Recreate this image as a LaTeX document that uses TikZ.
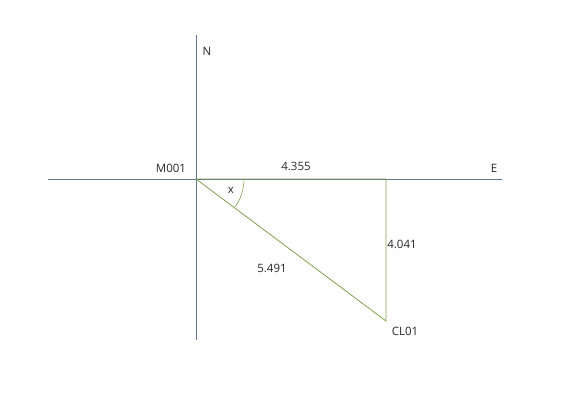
\documentclass[tikz,border=0pt]{standalone}
\usepackage{fontspec}
\setmainfont{Open Sans}
\definecolor{axiscol}{RGB}{100,120,150}
\definecolor{trigreen}{RGB}{128,160,80}
\definecolor{txt}{RGB}{40,40,40}
\begin{document}
\begin{tikzpicture}[x=1pt,y=-1pt,
  axis/.style={draw=axiscol,line width=0.8pt},
  tri/.style={draw=trigreen,line width=0.8pt},
  lbl/.style={text=txt,font=\fontsize{11.5}{13}\selectfont,inner sep=0pt}]
\useasboundingbox (0,0) rectangle (572,402);
\coordinate (ntop) at (196,35);
\coordinate (nbot) at (196,340);
\coordinate (wend) at (48,179);
\coordinate (eend) at (502,179);
\coordinate (M) at (196,179);
\coordinate (K) at (386,179);
\coordinate (C) at (386,321);
\draw[axis] (ntop) -- (nbot);
\draw[axis] (wend) -- (eend);
\draw[tri] (M) -- (K) -- (C) -- cycle;
\draw[tri,line width=0.6pt] ([xshift=48pt]M) arc[start angle=0,end angle=-36.8,radius=48pt];
\node[lbl] (n) at (207,51) {N};
\node[lbl] (m) at (171,168) {M001};
\node[lbl] (a) at (296,166) {4.355};
\node[lbl] (e) at (494,168) {E};
\node[lbl] (x) at (231,190) {x};
\node[lbl] (b) at (402,244) {4.041};
\node[lbl] (h) at (272,268) {5.491};
\node[lbl] (c) at (405,331) {CL01};
\end{tikzpicture}
\end{document}
